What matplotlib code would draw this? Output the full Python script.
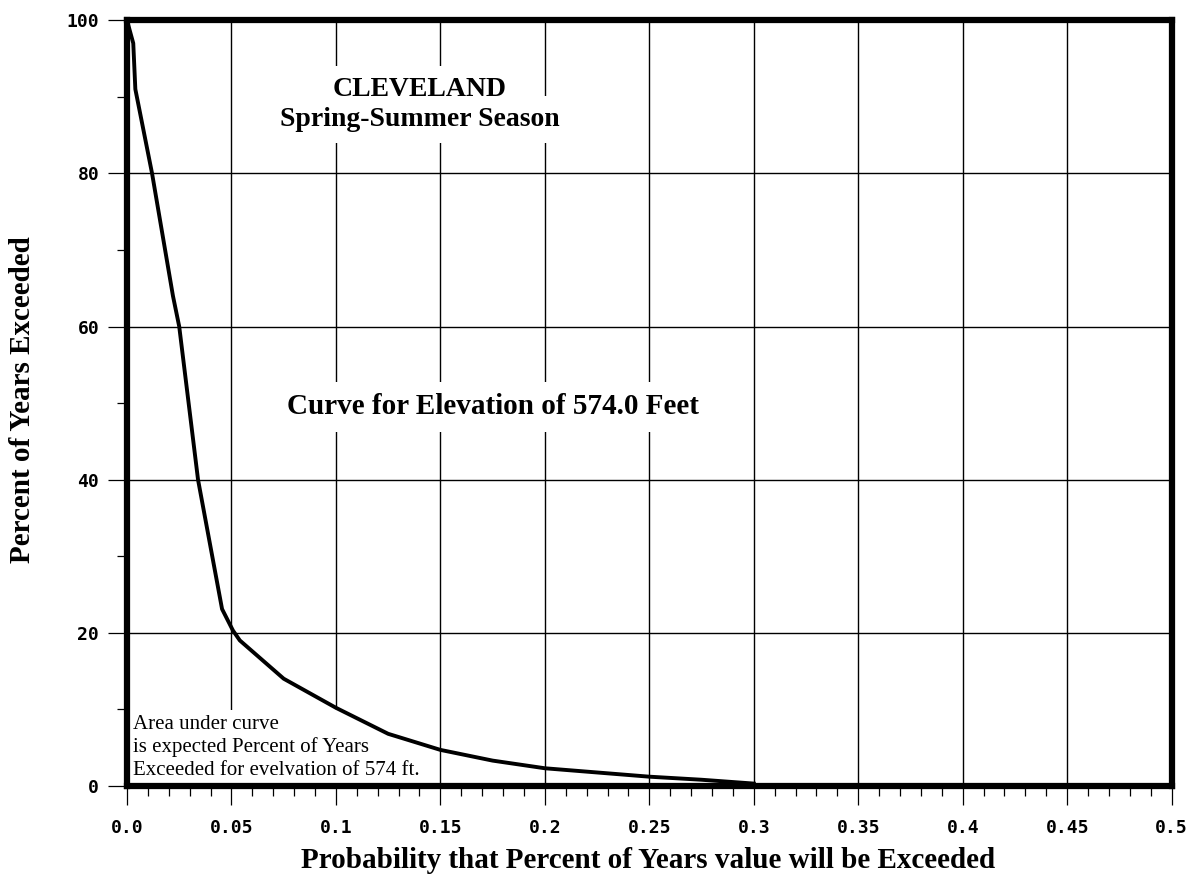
import matplotlib
matplotlib.use("Agg")
import matplotlib.pyplot as plt
import numpy as np

# curve
prob = [0.0, 0.003, 0.004, 0.012, 0.022, 0.025, 0.034, 0.0455, 0.0507, 0.054,
        0.075, 0.1, 0.125, 0.15, 0.175, 0.2, 0.25, 0.275, 0.3]
pct = [100, 97, 91, 80, 64, 60, 40, 23.1, 20.3, 19.0,
       14.0, 10.2, 6.8, 4.7, 3.3, 2.3, 1.2, 0.8, 0.3]

xticks = [0.0, 0.05, 0.1, 0.15, 0.2, 0.25, 0.3, 0.35, 0.4, 0.45, 0.5]
xlabels = ["0.0", "0.05", "0.1", "0.15", "0.2", "0.25", "0.3", "0.35", "0.4", "0.45", "0.5"]
yticks = [0, 20, 40, 60, 80, 100]

serif = "Liberation Serif"
mono = "DejaVu Sans Mono"

fig = plt.figure(figsize=(11.98, 8.83), dpi=100)
ax = fig.add_axes([0.106, 0.110, 0.872, 0.867])

ax.plot(prob, pct, color="black", lw=2.8, zorder=5, solid_joinstyle="round")

ax.set_xlim(0, 0.5)
ax.set_ylim(0, 100)
ax.set_xticks(xticks)
ax.set_xticklabels(xlabels)
ax.set_xticks(np.arange(0, 0.501, 0.01), minor=True)
ax.set_yticks(yticks)
ax.set_yticks([10, 30, 50, 70, 90], minor=True)

ax.grid(True, which="major", color="black", lw=1.0)
ax.tick_params(which="major", length=14, width=0.9, direction="out", pad=6)
ax.tick_params(which="minor", length=7, width=0.9, direction="out")
ax.tick_params(axis="x", which="major", pad=10)
for lab in ax.get_xticklabels() + ax.get_yticklabels():
    lab.set_fontfamily(mono)
    lab.set_fontweight("bold")
    lab.set_fontsize(13)

for sp in ax.spines.values():
    sp.set_linewidth(4.5)
    sp.set_zorder(6)

ax.set_xlabel("Probability that Percent of Years value will be Exceeded",
              fontfamily=serif, fontweight="bold", fontsize=21, va="center")
ax.xaxis.set_label_coords(0.4986, -0.097)
ax.set_ylabel("Percent of Years Exceeded",
              fontfamily=serif, fontweight="bold", fontsize=21, va="center")
ax.yaxis.set_label_coords(-0.1005, 0.504)

box = dict(facecolor="white", edgecolor="none", pad=8)
ax.text(0.14, 91, "CLEVELAND", ha="center", va="center",
        fontfamily=serif, fontweight="bold", fontsize=20, bbox=box, zorder=3)
ax.text(0.14, 87, "Spring-Summer Season", ha="center", va="center",
        fontfamily=serif, fontweight="bold", fontsize=20, bbox=box, zorder=3)
ax.text(0.175, 49.5, "Curve for Elevation of 574.0 Feet", ha="center", va="center",
        fontfamily=serif, fontweight="bold", fontsize=21, bbox=box, zorder=3)
ax.text(0.003, 0.8, "Area under curve\nis expected Percent of Years\nExceeded for evelvation of 574 ft.",
        ha="left", va="bottom", fontfamily=serif, fontsize=15, linespacing=1.25,
        bbox=dict(facecolor="white", edgecolor="none", pad=3), zorder=3)

fig.savefig("out.png", dpi=100)
